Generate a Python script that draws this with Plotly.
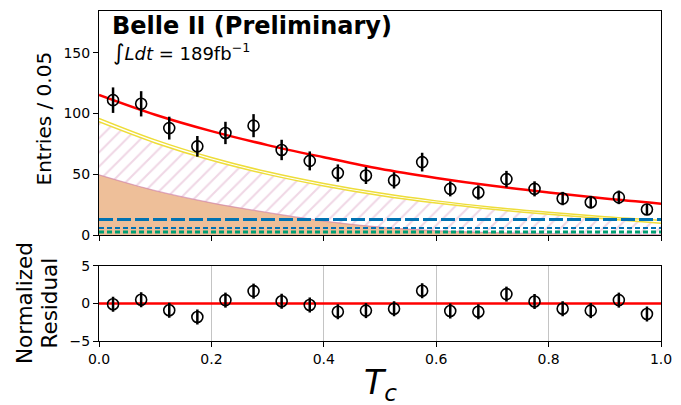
import plotly.graph_objects as go

# ---- binned data (T_c bins of width 0.05) ----
tc_centers = [0.025, 0.075, 0.125, 0.175, 0.225, 0.275, 0.325, 0.375, 0.425, 0.475,
              0.525, 0.575, 0.625, 0.675, 0.725, 0.775, 0.825, 0.875, 0.925, 0.975]
entries = [111, 108, 88, 73, 84, 90, 70, 61, 51, 49,
           45, 60, 38, 35, 46, 38, 30, 27, 31, 21]
entries_err = [10.5, 10.4, 9.4, 8.5, 9.2, 9.5, 8.4, 7.8, 7.1, 7.0,
               6.7, 7.7, 6.2, 5.9, 6.8, 6.2, 5.5, 5.2, 5.6, 4.6]

residual = [-0.1, 0.5, -0.9, -1.8, 0.45, 1.65, 0.3, -0.2, -1.1, -0.95,
            -0.7, 1.7, -1.0, -1.1, 1.25, 0.27, -0.7, -0.95, 0.45, -1.4]
residual_err = [1.0, 1.0, 1.0, 1.0, 1.0, 1.0, 1.0, 1.0, 1.0, 1.0,
                1.0, 1.0, 1.0, 1.0, 1.0, 1.0, 1.0, 1.0, 1.0, 1.0]

# ---- fit model components, sampled along T_c ----
curve_x = [0.0, 0.1, 0.2, 0.3, 0.4, 0.5, 0.6, 0.7, 0.8, 0.9, 1.0]
total_fit = [115.3, 99.0, 85.5, 74.0, 64.0, 54.5, 47.0, 40.5, 35.0, 30.0, 25.8]
stack_upper = [96.0, 78.3, 63.8, 52.0, 42.4, 34.5, 28.1, 22.9, 18.7, 15.0, 12.0]
stack_lower = [93.2, 75.8, 61.5, 49.9, 40.4, 32.6, 26.3, 21.2, 17.1, 13.4, 9.7]
comp_peaked = [49.5, 36.5, 26.5, 18.5, 11.5, 6.5, 3.6, 2.0, 1.1, 0.6, 0.3]
flat_bkg_a = 12.8
flat_bkg_b = 5.7
flat_bkg_c = 2.5

tick_pos = [0.0, 0.2, 0.4, 0.6, 0.8, 1.0]
tick_txt = ["0.0", "0.2", "0.4", "0.6", "0.8", "1.0"]

FONT = "DejaVu Sans"
BLUE = "#0072B2"
GREEN = "#009E73"
YELLOW = "#EEDD3A"
VERM_FILL = "rgba(213,94,0,0.4)"
PINK_EDGE = "rgba(204,121,167,0.6)"
PINK_HATCH = "rgba(204,121,167,0.6)"

fig = go.Figure()

# peaked component, filled
fig.add_trace(go.Scatter(
    x=curve_x, y=comp_peaked, mode="lines", line=dict(color=PINK_EDGE, width=1.2, shape="spline"),
    fill="tozeroy", fillcolor=VERM_FILL, xaxis="x", yaxis="y", showlegend=False))

# hatched component stacked on top
fig.add_trace(go.Scatter(
    x=curve_x, y=stack_lower, mode="lines", line=dict(color=YELLOW, width=1.5, shape="spline"),
    fill="tonexty", fillcolor="rgba(0,0,0,0)",
    fillpattern=dict(shape="/", fgcolor=PINK_HATCH, bgcolor="rgba(255,255,255,0)",
                     size=10, solidity=0.2),
    xaxis="x", yaxis="y", showlegend=False))
fig.add_trace(go.Scatter(
    x=curve_x, y=stack_upper, mode="lines", line=dict(color=YELLOW, width=1.5, shape="spline"),
    xaxis="x", yaxis="y", showlegend=False))

# flat components
fig.add_trace(go.Scatter(
    x=[0, 1], y=[flat_bkg_c, flat_bkg_c], mode="lines",
    line=dict(color=GREEN, width=3, dash="5px,3px"), xaxis="x", yaxis="y", showlegend=False))
fig.add_trace(go.Scatter(
    x=[0, 1], y=[flat_bkg_b, flat_bkg_b], mode="lines",
    line=dict(color=BLUE, width=2, dash="5px,3px"), xaxis="x", yaxis="y", showlegend=False))
fig.add_trace(go.Scatter(
    x=[0, 1], y=[flat_bkg_a, flat_bkg_a], mode="lines",
    line=dict(color=BLUE, width=3, dash="14px,4px"), xaxis="x", yaxis="y", showlegend=False))

# total fit
fig.add_trace(go.Scatter(
    x=curve_x, y=total_fit, mode="lines", line=dict(color="red", width=2.5, shape="spline"),
    xaxis="x", yaxis="y", showlegend=False))

# data
fig.add_trace(go.Scatter(
    x=tc_centers, y=entries, mode="markers",
    marker=dict(symbol="circle-open", size=11, color="black", line=dict(width=1.6, color="black")),
    error_y=dict(type="data", array=entries_err, visible=True, color="black", thickness=2.5, width=0),
    xaxis="x", yaxis="y", showlegend=False))

# residual panel
fig.add_trace(go.Scatter(
    x=[0, 1], y=[0, 0], mode="lines", line=dict(color="red", width=2.5),
    xaxis="x2", yaxis="y2", showlegend=False))
fig.add_trace(go.Scatter(
    x=tc_centers, y=residual, mode="markers",
    marker=dict(symbol="circle-open", size=11, color="black", line=dict(width=1.6, color="black")),
    error_y=dict(type="data", array=residual_err, visible=True, color="black", thickness=2.5, width=0),
    xaxis="x2", yaxis="y2", showlegend=False))

axis_common = dict(showline=True, linecolor="black", linewidth=1, mirror=True,
                   ticks="outside", ticklen=5, tickwidth=1, tickcolor="black",
                   tickfont=dict(family=FONT, size=14, color="black"), zeroline=False,
                   automargin=False)

fig.update_layout(
    width=681, height=405,
    margin=dict(l=99, r=20, t=11, b=64, autoexpand=False),
    paper_bgcolor="white", plot_bgcolor="white",
    font=dict(family=FONT, color="black"),
    xaxis=dict(domain=[0, 1], anchor="y", range=[0, 1], tickvals=tick_pos,
               showticklabels=False, showgrid=False, **axis_common),
    yaxis=dict(domain=[0.3212, 1], anchor="x", range=[0, 184.4], tickvals=[0, 50, 100, 150],
               showgrid=False, **axis_common),
    xaxis2=dict(domain=[0, 1], anchor="y2", range=[0, 1], tickvals=tick_pos, ticktext=tick_txt,
                showgrid=True, gridcolor="#c4c4c4", gridwidth=1, **axis_common),
    yaxis2=dict(domain=[0, 0.2273], anchor="x2", range=[-5, 5], tickvals=[-5, 0, 5],
                showgrid=False, **axis_common),
)

annotations = [
    dict(text="<b>Belle II (Preliminary)</b>", x=0.02, y=1.0, xref="paper", yref="paper",
         xanchor="left", yanchor="top", yshift=1, showarrow=False,
         font=dict(family=FONT, size=24, color="black")),
    dict(text="<span style='font-size:22px'>∫</span><i>Ldt</i> = 189fb<sup>−1</sup>",
         x=0.021, y=0.918, xref="paper", yref="paper",
         xanchor="left", yanchor="top", showarrow=False,
         font=dict(family=FONT, size=18, color="black")),
    dict(text="Entries / 0.05", x=-0.098, y=0.674, xref="paper", yref="paper",
         xanchor="center", yanchor="middle", textangle=-90, showarrow=False,
         font=dict(family=FONT, size=20, color="black")),
    dict(text="Normalized", x=(24 - 99) / 562, y=0.115, xref="paper", yref="paper",
         xanchor="center", yanchor="middle", textangle=-90, showarrow=False,
         font=dict(family=FONT, size=21.5, color="black")),
    dict(text="Residual", x=(49.5 - 99) / 562, y=0.115, xref="paper", yref="paper",
         xanchor="center", yanchor="middle", textangle=-90, showarrow=False,
         font=dict(family=FONT, size=21.5, color="black")),
    dict(text="<i>T</i><sub><i>c</i></sub>", x=0.5, y=-0.085, xref="paper", yref="paper",
         xanchor="center", yanchor="top", yshift=8, showarrow=False,
         font=dict(family=FONT, size=33, color="black")),
]
fig.update_layout(annotations=annotations)

fig.write_html("out.html")
